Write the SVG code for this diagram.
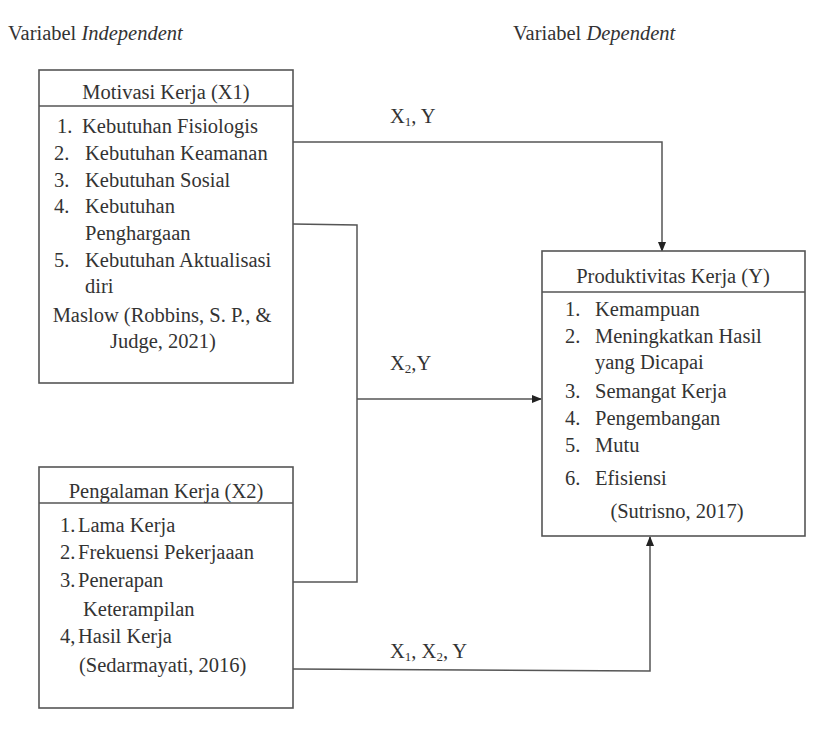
<svg xmlns="http://www.w3.org/2000/svg" width="838" height="743" viewBox="0 0 838 743">
<defs>
<style>
text{fill:#333}
.box{fill:#fff;stroke:#555;stroke-width:1.6}
.div{stroke:#555;stroke-width:1.6}
.c{text-anchor:middle}
.con{fill:none;stroke:#555;stroke-width:1.5}
</style>
<marker id="arr" markerWidth="10" markerHeight="10" refX="9" refY="5" orient="auto" markerUnits="userSpaceOnUse">
<path d="M0,1 L10,5 L0,9 Z" fill="#222"/>
</marker>
</defs>
<rect width="838" height="743" fill="#fff"/>
<g id="titles" font-family="Liberation Serif" font-size="20.5">
<text x="8" y="40">Variabel <tspan font-style="italic">Independent</tspan></text>
<text x="513" y="40">Variabel <tspan font-style="italic">Dependent</tspan></text>
</g>

<g id="connectors" font-family="Liberation Serif" font-size="20.5">
<path class="con" d="M293,142 H662 V251" marker-end="url(#arr)"/>
<path class="con" d="M293,224 L357,225 V582 H293"/>
<path class="con" d="M357,399 H541" marker-end="url(#arr)"/>
<path class="con" d="M293,669 L650,671 V537" marker-end="url(#arr)"/>
<text x="390" y="123">X<tspan font-size="13" dy="3">1</tspan><tspan dy="-3">, Y</tspan></text>
<text x="390" y="370">X<tspan font-size="13" dy="3">2</tspan><tspan dy="-3">,Y</tspan></text>
<text x="390" y="658">X<tspan font-size="13" dy="3">1</tspan><tspan dy="-3">, X</tspan><tspan font-size="13" dy="3">2</tspan><tspan dy="-3">, Y</tspan></text>
</g>

<g id="x1" font-family="Liberation Serif" font-size="20.5">
<rect class="box" x="39" y="70" width="254" height="313"/>
<line class="div" x1="39" y1="106" x2="293" y2="106"/>
<text class="c" x="166" y="99">Motivasi Kerja (X1)</text>
<text x="57" y="133">1.</text><text x="82" y="133">Kebutuhan Fisiologis</text>
<text x="54" y="160">2.</text><text x="85" y="160">Kebutuhan Keamanan</text>
<text x="54" y="187">3.</text><text x="85" y="187">Kebutuhan Sosial</text>
<text x="54" y="213">4.</text><text x="85" y="213">Kebutuhan</text>
<text x="85" y="240">Penghargaan</text>
<text x="54" y="267">5.</text><text x="85" y="267">Kebutuhan Aktualisasi</text>
<text x="85" y="293">diri</text>
<text class="c" x="162" y="322">Maslow (Robbins, S. P., &amp;</text>
<text class="c" x="163" y="348">Judge, 2021)</text>
</g>

<g id="x2" font-family="Liberation Serif" font-size="20.5">
<rect class="box" x="39" y="467" width="254" height="241"/>
<line class="div" x1="39" y1="503" x2="293" y2="503"/>
<text class="c" x="166" y="498">Pengalaman Kerja (X2)</text>
<text x="60" y="532">1.</text><text x="78" y="532">Lama Kerja</text>
<text x="60" y="559">2.</text><text x="78" y="559">Frekuensi Pekerjaaan</text>
<text x="60" y="587">3.</text><text x="78" y="587">Penerapan</text>
<text x="83" y="616">Keterampilan</text>
<text x="60" y="643">4,</text><text x="78" y="643">Hasil Kerja</text>
<text x="79" y="672">(Sedarmayati, 2016)</text>
</g>

<g id="y" font-family="Liberation Serif" font-size="20.5">
<rect class="box" x="542" y="251" width="263" height="285"/>
<line class="div" x1="542" y1="292" x2="805" y2="292"/>
<text class="c" x="673" y="283">Produktivitas Kerja (Y)</text>
<text x="565" y="316">1.</text><text x="595" y="316">Kemampuan</text>
<text x="565" y="343">2.</text><text x="595" y="343">Meningkatkan Hasil</text>
<text x="595" y="369">yang Dicapai</text>
<text x="565" y="398">3.</text><text x="595" y="398">Semangat Kerja</text>
<text x="565" y="425">4.</text><text x="595" y="425">Pengembangan</text>
<text x="565" y="452">5.</text><text x="595" y="452">Mutu</text>
<text x="565" y="485">6.</text><text x="595" y="485">Efisiensi</text>
<text class="c" x="677" y="518">(Sutrisno, 2017)</text>
</g>
</svg>
